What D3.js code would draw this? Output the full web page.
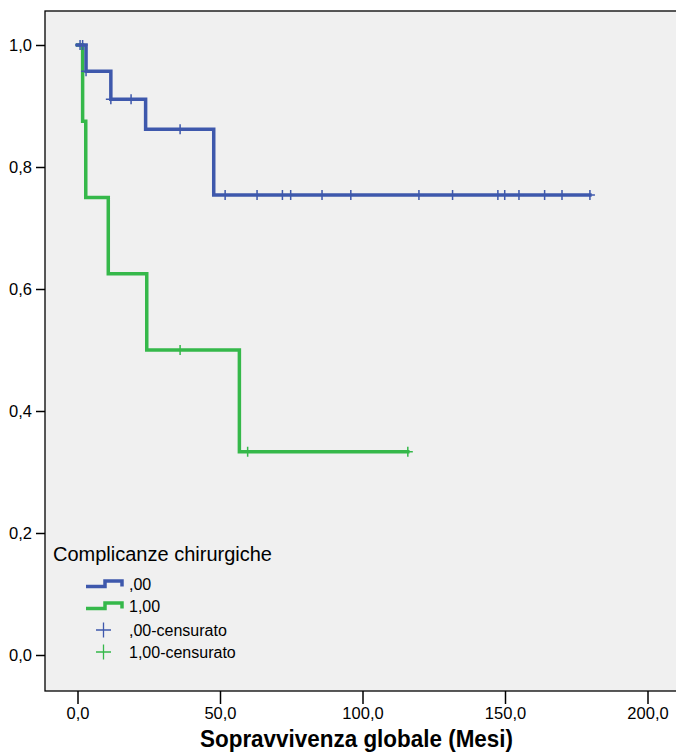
<!DOCTYPE html>
<html>
<head>
<meta charset="utf-8">
<script src="https://cdn.jsdelivr.net/npm/d3@7"></script>
<style>
  body { margin: 0; background: #fff; }
  text { font-family: "Liberation Sans", Arial, sans-serif; }
</style>
</head>
<body>
<div id="chart"></div>
<script>
// Kaplan-Meier curves
// group ,00 : step points (time, survival after the step)
var blueTimes = [0, 3, 11.7, 23.9, 47.8, 179.8];
var blueSurv = [1, 0.957, 0.911, 0.862, 0.754, 0.754];
var blueCensored = [0.9, 1.8, 3, 11.7, 18.8, 36, 51.8, 63, 71.9, 74.8, 85.8, 95.9,
  119.8, 131.6, 147.5, 149.9, 154.9, 163.9, 170, 179.8];

// group 1,00
var greenTimes = [0, 1.8, 2.9, 10.8, 24.3, 56.8, 115.9];
var greenSurv = [1, 0.875, 0.75, 0.625, 0.5, 0.333, 0.333];
var greenCensored = [36, 59.7, 115.9];

var xTicks = [0, 50, 100, 150, 200];
var yTicks = [0, 0.2, 0.4, 0.6, 0.8, 1.0];
var legendTitle = "Complicanze chirurgiche";
var legendLabels = [",00", "1,00", ",00-censurato", "1,00-censurato"];

var blue = "#3e58ac";
var green = "#35b84a";

var svgWidth = 676;
var svgHeight = 753;

var svg = d3.select("#chart")
  .append("svg")
    .attr("width", svgWidth)
    .attr("height", svgHeight);

// plot frame
var frame = {left: 45, top: 11, right: 680, bottom: 691};

svg.append("rect")
  .attr("x", frame.left)
  .attr("y", frame.top)
  .attr("width", frame.right - frame.left)
  .attr("height", frame.bottom - frame.top)
  .attr("fill", "#f0f0f0")
  .attr("stroke", "#000")
  .attr("stroke-width", 1.3);

var x = d3.scaleLinear()
  .domain([0, 200])
  .range([77.5, 647.5]);

var y = d3.scaleLinear()
  .domain([0, 1])
  .range([655, 45]);

var fmt = d => d3.format(".1f")(d).replace(".", ",");

// axes
var leftAxis = d3.axisLeft(y)
  .tickValues(yTicks)
  .tickSize(9)
  .tickPadding(4)
  .tickFormat(fmt);

var bottomAxis = d3.axisBottom(x)
  .tickValues(xTicks)
  .tickSize(13)
  .tickPadding(3)
  .tickFormat(fmt);

var gy = svg.append("g")
  .attr("transform", `translate(${frame.left}, 0)`)
  .call(leftAxis);
gy.select(".domain").remove();

var gx = svg.append("g")
  .attr("transform", `translate(0, ${frame.bottom})`)
  .call(bottomAxis);
gx.select(".domain").remove();

svg.selectAll(".tick line").attr("stroke", "#000").attr("stroke-width", 1.5);
svg.selectAll(".tick text")
  .attr("fill", "#000")
  .style("font-size", "16.5px")
  .style("font-family", "Liberation Sans, Arial, sans-serif");

svg.append("text")
  .attr("x", 200)
  .attr("y", 747)
  .attr("textLength", 313)
  .attr("lengthAdjust", "spacingAndGlyphs")
  .style("font-size", "23px")
  .style("font-weight", "bold")
  .text("Sopravvivenza globale (Mesi)");

// curves
var stepLine = d3.line()
  .x(d => x(d[0]))
  .y(d => y(d[1]))
  .curve(d3.curveStepAfter);

function survAt(times, surv, t) {
  var v = surv[0];
  for (var i = 0; i < times.length; i++) {
    if (times[i] <= t + 1e-9) v = surv[i];
  }
  return v;
}

function drawGroup(times, surv, cens, color) {
  svg.append("path")
    .datum(d3.zip(times, surv))
    .attr("d", stepLine)
    .attr("fill", "none")
    .attr("stroke", color)
    .attr("stroke-width", 3.5)
    .attr("stroke-linejoin", "miter")
    .attr("stroke-linecap", "square");

  svg.append("g").selectAll("path")
    .data(cens)
    .enter()
    .append("path")
    .attr("d", function(t) {
      var cx = x(t), cy = y(survAt(times, surv, t));
      return `M${cx - 5},${cy}H${cx + 5}M${cx},${cy - 5}V${cy + 5}`;
    })
    .attr("stroke", color)
    .attr("stroke-width", 1.5)
    .attr("fill", "none");
}

drawGroup(greenTimes, greenSurv, greenCensored, green);
drawGroup(blueTimes, blueSurv, blueCensored, blue);

// legend
var legend = svg.append("g");

legend.append("text")
  .attr("x", 53)
  .attr("y", 561)
  .style("font-size", "20px")
  .text(legendTitle);

var legendColors = [blue, green, blue, green];
var rowY = [584, 606, 630, 652];

legendLabels.forEach(function(label, i) {
  var cy = rowY[i];
  if (i < 2) {
    legend.append("path")
      .attr("d", `M86,${cy + 2.5}H105V${cy - 3}H122V${cy + 2.5}`)
      .attr("fill", "none")
      .attr("stroke", legendColors[i])
      .attr("stroke-width", 3.5);
  } else {
    legend.append("path")
      .attr("d", `M96,${cy}H111M103.5,${cy - 7.5}V${cy + 7.5}`)
      .attr("fill", "none")
      .attr("stroke", legendColors[i])
      .attr("stroke-width", 1.3);
  }
  legend.append("text")
    .attr("x", 129)
    .attr("y", cy + 5.5)
    .style("font-size", "16px")
    .text(label);
});
</script>
</body>
</html>
